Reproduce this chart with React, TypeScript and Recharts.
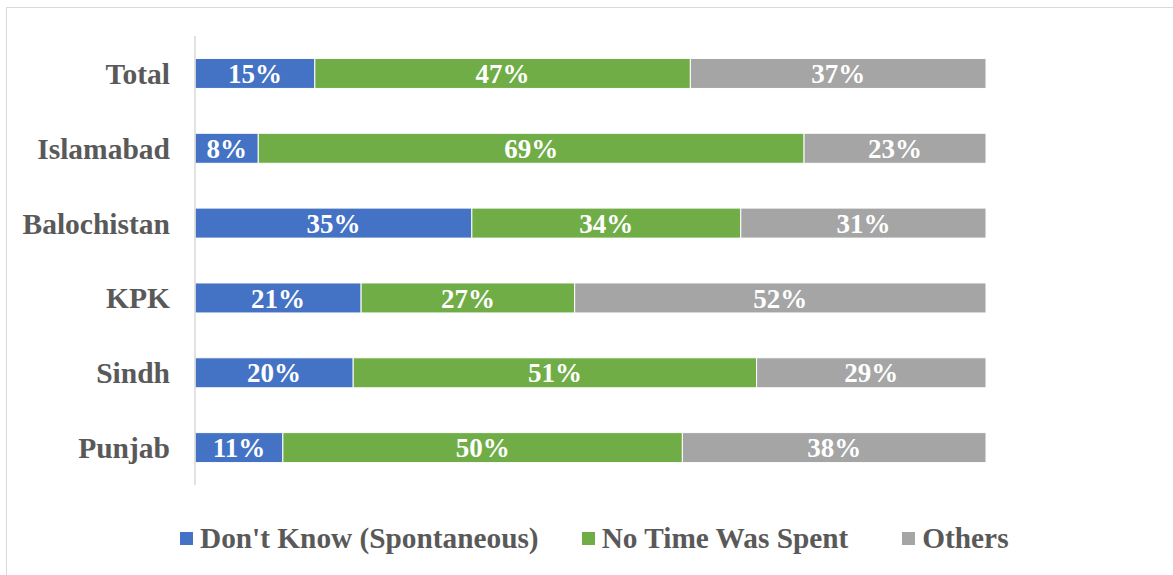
import React from 'react';
import { BarChart, Bar, XAxis, YAxis, LabelList, Legend } from 'recharts';

const categories = ['Total', 'Islamabad', 'Balochistan', 'KPK', 'Sindh', 'Punjab'];
const dontKnow = [15, 8, 35, 21, 20, 11];
const noTime = [47, 69, 34, 27, 51, 50];
const others = [37, 23, 31, 52, 29, 38];

const seriesNames = ["Don't Know (Spontaneous)", 'No Time Was Spent', 'Others'];
const seriesColors = ['#4472C4', '#70AD47', '#A5A5A5'];
const seriesKeys = ['dk', 'nt', 'ot'];

const data = categories.map((name, i) => ({
  name,
  dk: dontKnow[i],
  nt: noTime[i],
  ot: others[i],
}));

const FONT = '"Liberation Serif", "Times New Roman", serif';
const TEXT = '#595959';
const legendGaps = [43, 54, 0];

const LegendContent = () => (
  <div
    style={{
      height: 90,
      boxSizing: 'border-box',
      paddingTop: 36,
      paddingLeft: 180,
      display: 'flex',
      justifyContent: 'flex-start',
      alignItems: 'flex-start',
      fontFamily: FONT,
      fontWeight: 'bold',
      fontSize: 29.3,
      color: TEXT,
      lineHeight: '34px',
    }}
  >
    {seriesNames.map((n, i) => (
      <div key={n} style={{ display: 'flex', alignItems: 'center', marginRight: legendGaps[i] }}>
        <span style={{ display: 'inline-block', width: 13, height: 13, background: seriesColors[i], marginRight: 7 }} />
        <span style={{ whiteSpace: 'nowrap' }}>{n}</span>
      </div>
    ))}
  </div>
);

export default function App() {
  return (
    <div style={{ position: 'absolute', left: 0, top: 0, width: 1173, height: 575, background: '#fff', overflow: 'hidden' }}>
      <div
        style={{
          position: 'absolute',
          left: 6,
          top: 7,
          width: 1220,
          height: 620,
          border: '1.5px solid #d9d9d9',
          boxSizing: 'border-box',
        }}
      />
      <div style={{ position: 'absolute', left: 0, top: 0 }}>
        <BarChart
          width={1173}
          height={575}
          data={data}
          layout="vertical"
          stackOffset="expand"
          margin={{ top: 36, right: 187, left: 0, bottom: 0 }}
          barCategoryGap="30%"
        >
          <XAxis type="number" hide domain={[0, 1]} />
          <YAxis
            type="category"
            dataKey="name"
            width={195}
            axisLine={{ stroke: '#d9d9d9', strokeWidth: 1.5 }}
            tickLine={false}
            tickMargin={19}
            tick={{ fill: TEXT, fontFamily: FONT, fontWeight: 'bold', fontSize: 29.5 }}
          />
          <Legend verticalAlign="bottom" content={<LegendContent />} />
          {seriesKeys.map((k, i) => (
            <Bar
              key={k}
              dataKey={k}
              name={seriesNames[i]}
              stackId="a"
              fill={seriesColors[i]}
              stroke="#ffffff"
              strokeWidth={1}
              isAnimationActive={false}
            >
              <LabelList
                dataKey={k}
                position="center"
                formatter={(v: any) => `${v}%`}
                style={{ fill: '#ffffff', fontFamily: FONT, fontWeight: 'bold', fontSize: 27 }}
              />
            </Bar>
          ))}
        </BarChart>
      </div>
    </div>
  );
}
